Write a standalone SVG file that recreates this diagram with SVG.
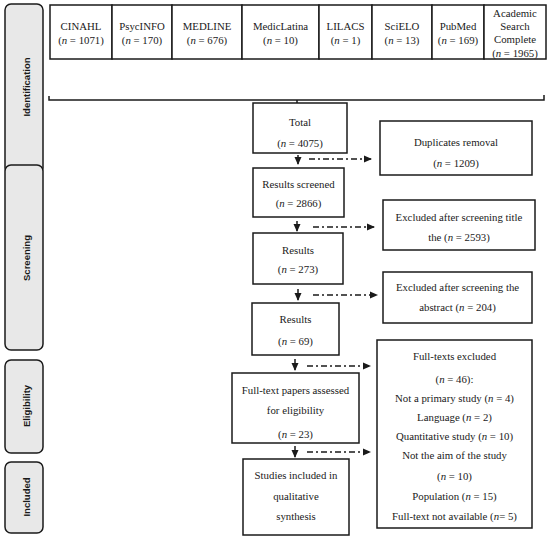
<svg xmlns="http://www.w3.org/2000/svg" width="550" height="538" viewBox="0 0 550 538">
<style>
.box{fill:#fff;stroke:#1a1a1a;stroke-width:1.5}
.tab{fill:#e8e8e8;stroke:#1a1a1a;stroke-width:1.5}
.t{font-family:"Liberation Serif",serif;font-size:10.8px;fill:#1a1a1a;text-anchor:middle;dominant-baseline:central}
.s{font-family:"Liberation Sans",sans-serif;font-size:9.5px;font-weight:bold;fill:#1a1a1a;text-anchor:middle;dominant-baseline:central}
.ln{fill:none;stroke:#1a1a1a;stroke-width:1.5}
.dd{fill:none;stroke:#1a1a1a;stroke-width:1.3;stroke-dasharray:6 3 2 3}
</style>
<defs>
<marker id="ah" markerWidth="8" markerHeight="8" refX="7" refY="4" orient="auto" markerUnits="userSpaceOnUse">
<path d="M0,0.5 L8,4 L0,7.5 Z" fill="#1a1a1a"/>
</marker>
</defs>
<g id="tabs">
<g id="tab-identification"><rect class="tab" x="5" y="4" width="38" height="170" rx="6"/><text class="s" transform="translate(26,87) rotate(-90)">Identification</text></g>
<g id="tab-screening"><rect class="tab" x="5" y="165" width="38" height="185" rx="6"/><text class="s" transform="translate(26,258) rotate(-90)">Screening</text></g>
<g id="tab-eligibility"><rect class="tab" x="5" y="360" width="38" height="93" rx="6"/><text class="s" transform="translate(26,406) rotate(-90)">Eligibility</text></g>
<g id="tab-included"><rect class="tab" x="5" y="462" width="38" height="71" rx="6"/><text class="s" transform="translate(26,497) rotate(-90)">Included</text></g>
</g>
<g id="db-cinahl"><rect class="box" x="50" y="5" width="62" height="54"/><text class="t" x="81" y="26">CINAHL</text><text class="t" x="81" y="40">(<tspan font-style="italic">n</tspan> = 1071)</text></g>
<g id="db-psycinfo"><rect class="box" x="112" y="5" width="60" height="54"/><text class="t" x="142" y="26">PsycINFO</text><text class="t" x="142" y="40">(<tspan font-style="italic">n</tspan> = 170)</text></g>
<g id="db-medline"><rect class="box" x="172" y="5" width="70" height="54"/><text class="t" x="207" y="26">MEDLINE</text><text class="t" x="207" y="40">(<tspan font-style="italic">n</tspan> = 676)</text></g>
<g id="db-mediclatina"><rect class="box" x="242" y="5" width="77" height="54"/><text class="t" x="280.5" y="26">MedicLatina</text><text class="t" x="280.5" y="40">(<tspan font-style="italic">n</tspan> = 10)</text></g>
<g id="db-lilacs"><rect class="box" x="319" y="5" width="53" height="54"/><text class="t" x="345.5" y="26">LILACS</text><text class="t" x="345.5" y="40">(<tspan font-style="italic">n</tspan> = 1)</text></g>
<g id="db-scielo"><rect class="box" x="372" y="5" width="60" height="54"/><text class="t" x="402" y="26">SciELO</text><text class="t" x="402" y="40">(<tspan font-style="italic">n</tspan> = 13)</text></g>
<g id="db-pubmed"><rect class="box" x="432" y="5" width="52" height="54"/><text class="t" x="458" y="26">PubMed</text><text class="t" x="458" y="40">(<tspan font-style="italic">n</tspan> = 169)</text></g>
<g id="db-academic"><rect class="box" x="484" y="5" width="62" height="54"/><text class="t" x="515" y="13">Academic</text><text class="t" x="515" y="26">Search</text><text class="t" x="515" y="39">Complete</text><text class="t" x="515" y="52.5">(<tspan font-style="italic">n</tspan> = 1965)</text></g>

<g id="total"><rect class="box" x="253" y="103" width="94" height="50"/><text class="t" x="300" y="122">Total</text><text class="t" x="300" y="143">(<tspan font-style="italic">n</tspan> = 4075)</text></g>
<g id="duplicates"><rect class="box" x="380" y="121" width="152" height="54"/><text class="t" x="456" y="142">Duplicates removal</text><text class="t" x="456" y="163">(<tspan font-style="italic">n</tspan> = 1209)</text></g>
<g id="screened"><rect class="box" x="253" y="168" width="91" height="49"/><text class="t" x="298.5" y="184">Results screened</text><text class="t" x="298.5" y="203">(<tspan font-style="italic">n</tspan> = 2866)</text></g>
<g id="excl-title"><rect class="box" x="383" y="200" width="152" height="50"/><text class="t" x="459" y="217">Excluded after screening title</text><text class="t" x="459" y="237">the (<tspan font-style="italic">n</tspan> = 2593)</text></g>
<g id="results273"><rect class="box" x="253" y="233" width="90" height="51"/><text class="t" x="298" y="250">Results</text><text class="t" x="298" y="269">(<tspan font-style="italic">n</tspan> = 273)</text></g>
<g id="excl-abstract"><rect class="box" x="383" y="272" width="149" height="51"/><text class="t" x="457.5" y="287">Excluded after screening the</text><text class="t" x="457.5" y="307">abstract (<tspan font-style="italic">n</tspan> = 204)</text></g>
<g id="results69"><rect class="box" x="252" y="303" width="87" height="52"/><text class="t" x="295.5" y="319">Results</text><text class="t" x="295.5" y="341">(<tspan font-style="italic">n</tspan> = 69)</text></g>
<g id="fulltext"><rect class="box" x="232" y="373" width="127" height="70"/><text class="t" x="295.5" y="390">Full-text papers assessed</text><text class="t" x="295.5" y="410">for eligibility</text><text class="t" x="295.5" y="434">(<tspan font-style="italic">n</tspan> = 23)</text></g>
<g id="included"><rect class="box" x="243" y="459" width="106" height="76"/><text class="t" x="296" y="475">Studies included in</text><text class="t" x="296" y="496">qualitative</text><text class="t" x="296" y="516">synthesis</text></g>
<g id="fulltext-excluded"><rect class="box" x="377" y="340" width="155" height="188"/>
<text class="t" x="454.5" y="356">Full-texts excluded</text>
<text class="t" x="454.5" y="379">(<tspan font-style="italic">n</tspan> = 46):</text>
<text class="t" x="454.5" y="398">Not a primary study (<tspan font-style="italic">n</tspan> = 4)</text>
<text class="t" x="454.5" y="417">Language (<tspan font-style="italic">n</tspan> = 2)</text>
<text class="t" x="454.5" y="436">Quantitative study (<tspan font-style="italic">n</tspan> = 10)</text>
<text class="t" x="454.5" y="455">Not the aim of the study</text>
<text class="t" x="454.5" y="476">(<tspan font-style="italic">n</tspan> = 10)</text>
<text class="t" x="454.5" y="496">Population (<tspan font-style="italic">n</tspan> = 15)</text>
<text class="t" x="454.5" y="516">Full-text not available (<tspan font-style="italic">n</tspan>= 5)</text>
</g>

<g id="connectors">
<path class="ln" d="M49,96 V100 H544 V95"/>
<path class="ln" d="M297,100 V103"/>
<path class="ln" d="M298,155 V164" marker-end="url(#ah)"/>
<path class="dd" d="M309,159 H371" marker-end="url(#ah)"/>
<path class="ln" d="M297,221 V231" marker-end="url(#ah)"/>
<path class="dd" d="M313,227 H374" marker-end="url(#ah)"/>
<path class="ln" d="M298,289 V300" marker-end="url(#ah)"/>
<path class="dd" d="M313,295 H377" marker-end="url(#ah)"/>
<path class="ln" d="M295,359 V370" marker-end="url(#ah)"/>
<path class="dd" d="M307,366 H370" marker-end="url(#ah)"/>
<path class="ln" d="M295,446 V457" marker-end="url(#ah)"/>
<path class="dd" d="M307,452 H370" marker-end="url(#ah)"/>
</g>
</svg>
